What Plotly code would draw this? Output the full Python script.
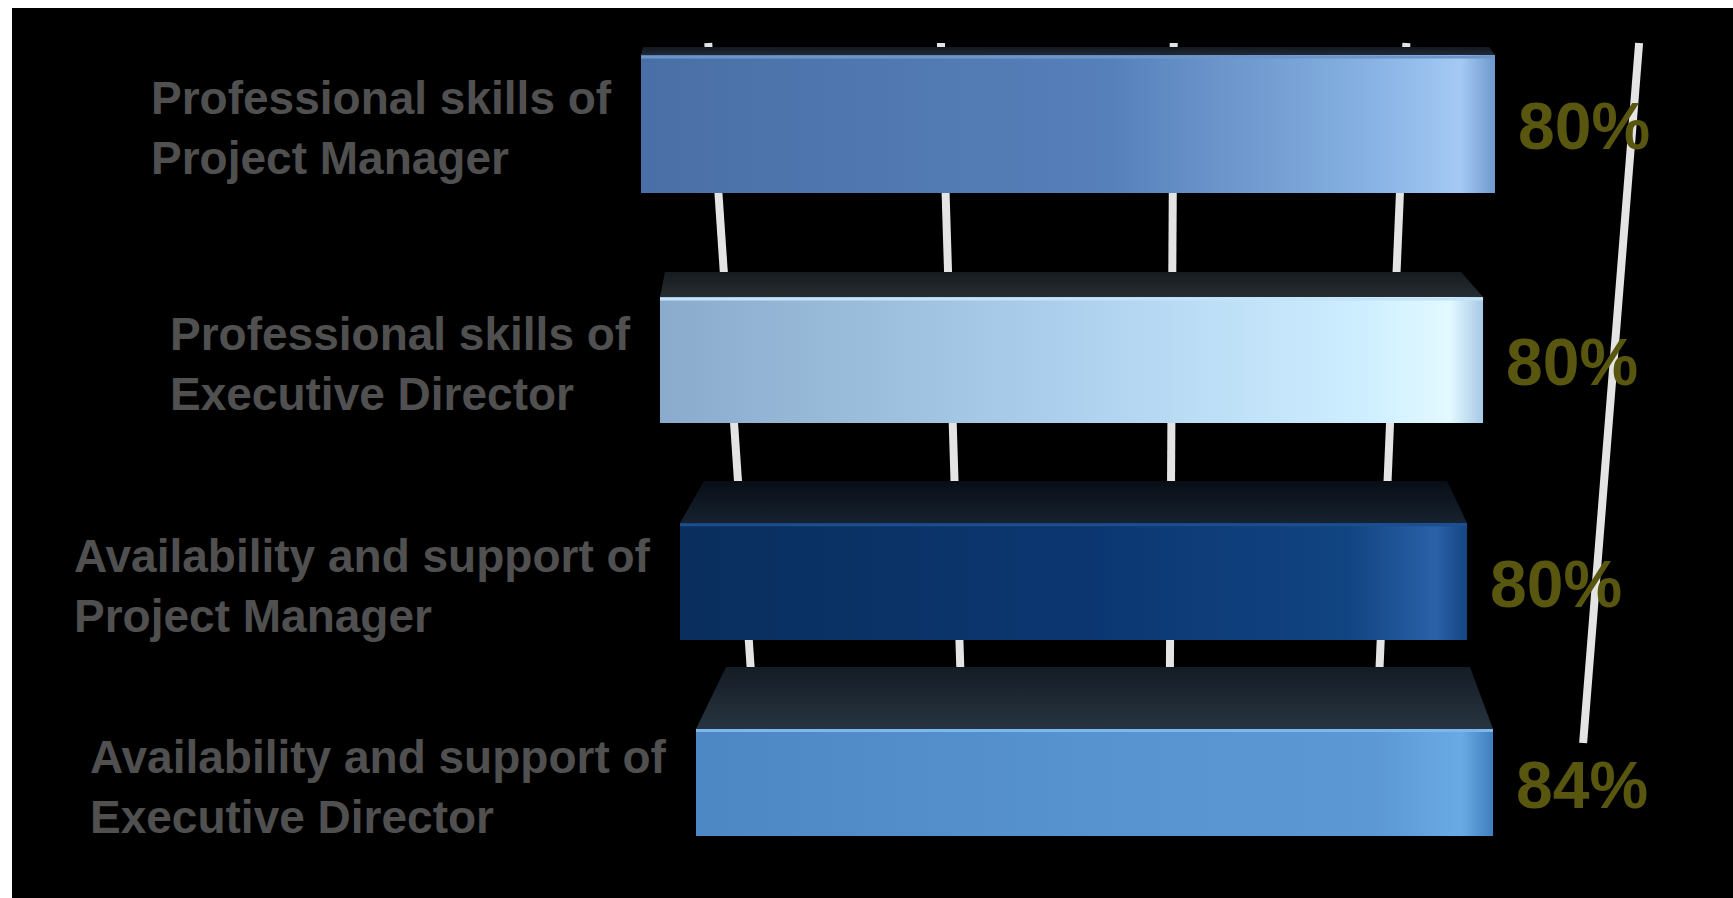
import plotly.graph_objects as go

# ---------------- data ----------------
categories = [
    "Professional skills of<br>Project Manager",
    "Professional skills of<br>Executive Director",
    "Availability and support of<br>Project Manager",
    "Availability and support of<br>Executive Director",
]
values = [80, 80, 80, 84]
value_suffix = "%"

# ---------------- layout constants (pixels of the 1733x898 page) ----------------
W, H = 1733, 898
ROW_FRONT_TOP = [55, 297, 523, 729]      # top edge of each bar's front face
ROW_FRONT_BOT = [193, 423, 640, 836]     # bottom edge of each bar's front face
ROW_AREA_TOP = [40, 193, 423, 640]       # top of each row's plotting strip
X0_PX = [641, 660, 680, 696]             # where 0 sits on each row (perspective)
X100_PX = [1708.5, 1688.8, 1663.8, 1644.8]  # where 100 sits on each row
TOP_DEPTH = [8, 25, 42, 62]              # visible depth of the bar tops
INSET_L = [2, 5, 24, 30]
INSET_R = [6, 22, 20, 23]
GRID_TICK0, GRID_DTICK, GRID_N = 6.3, 21.8, 5
GRID_TOP_PX, GRID_BOT_PX = 43, 743

FRONT_SCALES = [
    [[0, "#4a6fa6"], [0.55, "#5680ba"], [0.85, "#86b1e2"], [0.96, "#a4c9f4"], [1, "#6f98cc"]],
    [[0, "#8aabcb"], [0.5, "#add0ee"], [0.85, "#cdeeff"], [0.96, "#e2f9ff"], [1, "#a8c8e6"]],
    [[0, "#0a2f5e"], [0.5, "#0b3670"], [0.85, "#114482"], [0.96, "#2a62a8"], [1, "#154584"]],
    [[0, "#4d87c4"], [0.5, "#5793cf"], [0.85, "#5b98d4"], [0.96, "#6aaae4"], [1, "#3f7fc0"]],
]
BAR_BASE = ["#5680ba", "#add0ee", "#0c3872", "#5793cf"]
TOP_EDGE = ["#6d95c9", "#c4e2f8", "#1d4e8e", "#7ab8ee"]
TOP_FACE = [("#202a36", "#121820"), ("#262d31", "#161b1e"), ("#16222f", "#080e16"), ("#27343f", "#141c25")]

LABEL_FONT = dict(family="Liberation Sans, Arial, sans-serif", size=46, color="#505050", weight="bold")
VALUE_FONT = dict(family="Liberation Sans, Arial, sans-serif", size=66, color="#58560f", weight="bold")
GRID_COLOR = "#e4e4e4"

fig = go.Figure()
layout_axes = {}
annotations = []

for i, (cat, v) in enumerate(zip(categories, values)):
    n = i + 1
    xa = "x" if n == 1 else f"x{n}"
    ya = "y" if n == 1 else f"y{n}"
    front_h = ROW_FRONT_BOT[i] - ROW_FRONT_TOP[i]
    area_h = ROW_FRONT_BOT[i] - ROW_AREA_TOP[i]
    y_top_range = area_h / front_h
    s = (X100_PX[i] - X0_PX[i]) / 100.0
    d = TOP_DEPTH[i] / front_h

    # the bar itself
    fig.add_trace(go.Bar(
        x=[v], y=[0.5], width=1, orientation="h",
        marker=dict(color=BAR_BASE[i], line=dict(width=0)),
        xaxis=xa, yaxis=ya, showlegend=False, name=cat.replace("<br>", " "),
        hovertemplate="%{x}%<extra></extra>",
    ))
    # front-face shading
    fig.add_trace(go.Scatter(
        x=[0, v, v, 0, 0], y=[0, 0, 1, 1, 0], mode="lines", fill="toself",
        fillgradient=dict(type="horizontal", colorscale=FRONT_SCALES[i]),
        line=dict(width=0), xaxis=xa, yaxis=ya, showlegend=False, hoverinfo="skip",
    ))
    # top face (3-D look)
    fig.add_trace(go.Scatter(
        x=[0, v, v - INSET_R[i] / s, INSET_L[i] / s, 0],
        y=[1, 1, 1 + d, 1 + d, 1], mode="lines", fill="toself",
        fillgradient=dict(type="vertical", colorscale=[[0, TOP_FACE[i][0]], [1, TOP_FACE[i][1]]]),
        line=dict(width=0), xaxis=xa, yaxis=ya, showlegend=False, hoverinfo="skip",
    ))
    # highlight on the top edge of the front face
    fig.add_trace(go.Scatter(
        x=[0, v], y=[0.985, 0.985], mode="lines",
        line=dict(width=3, color=TOP_EDGE[i]),
        xaxis=xa, yaxis=ya, showlegend=False, hoverinfo="skip",
    ))

    layout_axes["xaxis" if n == 1 else f"xaxis{n}"] = dict(
        domain=[X0_PX[i] / W, X100_PX[i] / W], range=[0, 100], visible=False,
        anchor=ya, fixedrange=True,
    )
    layout_axes["yaxis" if n == 1 else f"yaxis{n}"] = dict(
        domain=[1 - ROW_FRONT_BOT[i] / H, 1 - ROW_AREA_TOP[i] / H],
        range=[0, y_top_range], visible=False, anchor=xa, fixedrange=True,
    )

    annotations.append(dict(
        text=cat, xref=xa, yref=ya, x=0, y=0.5, xanchor="right", yanchor="middle",
        xshift=-27, yshift=-4, align="left", showarrow=False, font=LABEL_FONT,
    ))
    annotations.append(dict(
        text=f"{v}{value_suffix}", xref=xa, yref=ya, x=v, y=0.5, xanchor="left",
        yanchor="middle", xshift=21, yshift=-2, showarrow=False, font=VALUE_FONT,
    ))

# perspective gridlines (straight, slightly converging), behind the bars
shapes = []
for j in range(GRID_N):
    g = GRID_TICK0 + j * GRID_DTICK
    x_top = (X0_PX[0] + g * (X100_PX[0] - X0_PX[0]) / 100.0) / W
    x_bot = (X0_PX[-1] + g * (X100_PX[-1] - X0_PX[-1]) / 100.0) / W
    shapes.append(dict(
        type="line", xref="paper", yref="paper",
        x0=x_top, y0=1 - GRID_TOP_PX / H, x1=x_bot, y1=1 - GRID_BOT_PX / H,
        line=dict(color=GRID_COLOR, width=8), layer="below",
    ))

# white page border (top and left strips)
shapes.append(dict(type="rect", xref="paper", yref="paper", x0=0, x1=12 / W, y0=0, y1=1,
                   fillcolor="white", line=dict(width=0), layer="above"))
shapes.append(dict(type="rect", xref="paper", yref="paper", x0=0, x1=1, y0=1 - 8 / H, y1=1,
                   fillcolor="white", line=dict(width=0), layer="above"))

fig.update_layout(
    width=W, height=H, margin=dict(l=0, r=0, t=0, b=0),
    paper_bgcolor="black", plot_bgcolor="rgba(0,0,0,0)",
    showlegend=False, bargap=0, annotations=annotations, shapes=shapes,
    **layout_axes,
)

fig.write_html("out.html")
